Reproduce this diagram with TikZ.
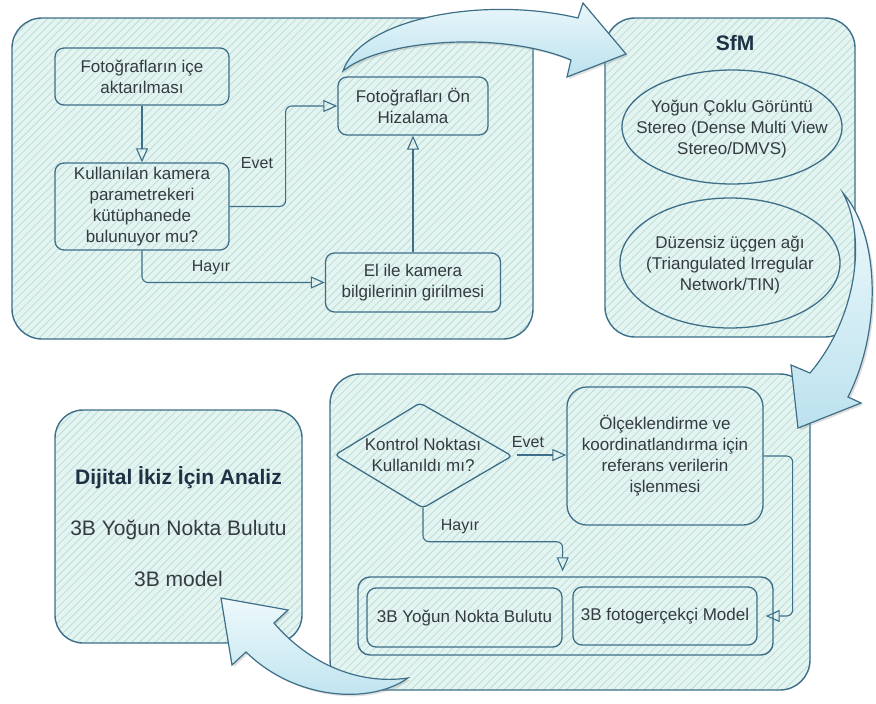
\documentclass[tikz,border=0pt]{standalone}
\usepackage{fontspec}
\setmainfont{Liberation Sans}
\usetikzlibrary{arrows.meta,patterns.meta,shadows,shapes.geometric}
\definecolor{boxbg}{HTML}{E4F4F1}
\definecolor{hatch}{HTML}{BCDDD8}
\definecolor{edge}{HTML}{3E6F88}
\definecolor{txt}{HTML}{343B42}
\definecolor{ttl}{HTML}{1E3246}
\definecolor{arrowlight}{HTML}{EEF9FC}
\definecolor{arrowdark}{HTML}{BCE2EE}
\begin{document}
\begin{tikzpicture}[x=1pt,y=-1pt,
 hatched/.style={preaction={fill=boxbg}, pattern={Lines[angle=45,distance=5.5pt,line width=0.8pt]}, pattern color=hatch},
 panel/.style={hatched, draw=edge, line width=1.4pt, rounded corners=30pt, inner sep=0pt},
 stepbox/.style={hatched, draw=edge, line width=1.3pt, rounded corners=9pt, inner sep=0pt, align=center, text=txt, font=\fontsize{17}{21}\selectfont},
 plaintext/.style={inner sep=0pt, align=center, text=txt, font=\fontsize{17}{21}\selectfont},
 conn/.style={draw=edge, line width=1.1pt, rounded corners=6pt, -{Triangle[open,length=14pt,width=12pt]}},
 lbl/.style={text=txt, font=\fontsize{16}{19}\selectfont, inner sep=0pt},
 bigarrow/.style={draw=edge, line width=1.2pt, line join=miter, top color=arrowlight, bottom color=arrowdark, drop shadow={opacity=0.25,shadow xshift=2pt,shadow yshift=-2pt}}
]
\useasboundingbox[fill=white] (0,0) rectangle (876,704);

% ---------- panels ----------
\node[panel, minimum width=521pt, minimum height=321pt] (g1) at (272.5,178.5) {};
\node[panel, minimum width=250pt, minimum height=319pt] (g2) at (730,177.5) {};
\node[panel, minimum width=480pt, minimum height=316pt] (g3) at (570,532) {};
\node[panel, rounded corners=28pt, minimum width=247pt, minimum height=233pt, align=center, text=txt, font=\fontsize{21}{51}\selectfont] (L) at (178.5,526.5)
  {{\bfseries\color{ttl}Dijital İkiz İçin Analiz}\\3B Yoğun Nokta Bulutu\\3B model};

% ---------- top-left flow ----------
\node[stepbox, minimum width=174pt, minimum height=57pt] (n1) at (142,76.5) {Fotoğrafların içe\\aktarılması};
\node[stepbox, minimum width=174pt, minimum height=87pt] (n2) at (142,206.5) {Kullanılan kamera\\parametrekeri\\kütüphanede\\bulunuyor mu?};
\node[stepbox, minimum width=150pt, minimum height=58pt] (n3) at (413,106) {Fotoğrafları Ön\\Hizalama};
\node[stepbox, minimum width=175pt, minimum height=59pt] (n4) at (413,282.5) {El ile kamera\\bilgilerinin girilmesi};

\draw[conn] (n1) -- (n2);
\draw[conn] (n2.east) -- ++(56,0) |- (n3.west);
\draw[conn] (n2.south) |- (n4.west);
\draw[conn] (n4) -- (n3);
\node[lbl] (evet1) at (257,163) {Evet};
\node[lbl] (hayir1) at (211,268) {Hayır};

% ---------- SfM ----------
\node[text=ttl, font=\fontsize{21}{25}\selectfont\bfseries] (sfm) at (735,43) {SfM};
\path[hatched, draw=edge, line width=1.3pt] (732,127) ellipse [x radius=110pt, y radius=57pt];
\node[plaintext] (e1) at (732,129) {Yoğun Çoklu Görüntü\\Stereo (Dense Multi View\\Stereo/DMVS)};
\path[hatched, draw=edge, line width=1.3pt] (730,263) ellipse [x radius=110pt, y radius=65pt];
\node[plaintext] (e2) at (730,265) {Düzensiz üçgen ağı\\(Triangulated Irregular\\Network/TIN)};

% ---------- bottom-right flow ----------
\path[hatched, draw=edge, line width=1.3pt, rounded corners=4pt] (335,455) -- (420,403) -- (512,456) -- (423,508) -- cycle;
\node[plaintext, minimum width=177pt, minimum height=105pt] (d) at (423,455) {Kontrol Noktası\\Kullanıldı mı?};
\node[stepbox, rounded corners=20pt, minimum width=196pt, minimum height=138pt] (o) at (665,456) {Ölçeklendirme ve\\koordinatlandırma için\\referans verilerin\\işlenmesi};
\node[panel, rounded corners=12pt, minimum width=415pt, minimum height=78pt] (grp) at (565.5,616) {};
\node[stepbox, minimum width=195pt, minimum height=59pt] (b1) at (464.5,617.5) {3B Yoğun Nokta Bulutu};
\node[stepbox, minimum width=184pt, minimum height=58pt] (m) at (665,616) {3B fotogerçekçi Model};

\draw[conn] ([xshift=5pt]d.east) -- (d.east -| o.west);
\draw[conn] (d.south) -- ++(0,34) -| ([yshift=5pt]b1.east |- grp.north);
\draw[conn] (o.east) -- ++(29,0) |- ([xshift=8pt]m.east);
\node[lbl] (evet2) at (528,442) {Evet};
\node[lbl] (hayir2) at (460,527) {Hayır};

% ---------- big curved arrows ----------
\path[bigarrow] (343,71) .. controls (360,20) and (480,-5) .. (578,18) -- (583,3) -- (626,54) -- (567,77) -- (571,60) .. controls (500,30) and (380,40) .. (343,71) -- cycle;
\path[bigarrow] (843,193) .. controls (880,235) and (882,330) .. (848,397) -- (861,403) -- (798,428) -- (791,365) -- (810,373) .. controls (855,320) and (868,240) .. (843,193) -- cycle;
\path[bigarrow] (221,598) -- (288,610) -- (274,623) .. controls (310,665) and (360,685) .. (408,678) .. controls (370,705) and (295,700) .. (246,652) -- (232,665) -- cycle;
\end{tikzpicture}
\end{document}
